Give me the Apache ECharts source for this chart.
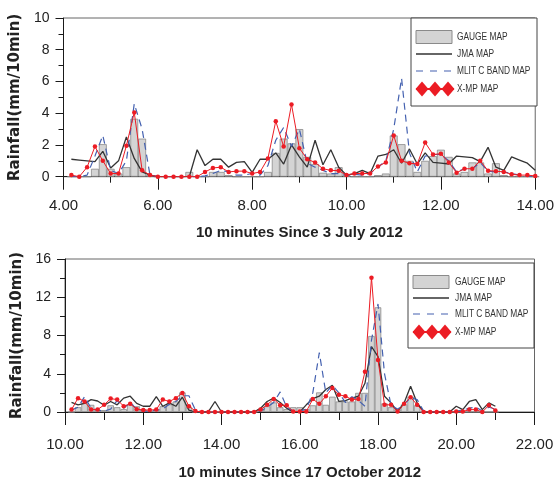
<!DOCTYPE html>
<html><head><meta charset="utf-8">
<script src="https://cdn.jsdelivr.net/npm/echarts@6/dist/echarts.min.js"></script>
<style>html,body{margin:0;padding:0;background:#fff}#c{width:557px;height:482px}</style>
</head><body><div id="c"></div>
<script>
// ---- Series names ----
const seriesNames = ['GAUGE MAP', 'JMA MAP', 'MLIT C BAND MAP', 'X-MP MAP'];

// ---- Panel 1: 10-minute steps since 3 July 2012 (first value at 4:10) ----
const julyStartHour = 4 + 1/6;
const stepHour = 1/6;
const julyGauge = [0,0,0,0.5,2.05,0.5,0.2,0.6,3.65,2.4, 0.1,0,0,0,0,0.3,0,0,0.3,0.3, 0.1,0,0,0,0,0.3,1.5,2.4,2.1,3.0, 1.25,0.8,0.25,0.2,0.6,0.1,0,0,0,0.1, 0.2,2.6,2.05,1.0,0.3,1.0,1.3,1.7,1.25,0.2, 0.3,0.9,0.9,0.2,0.85,0.1,0,0,0,0];
const julyJma   = [1.1,1.05,1.0,0.95,1.6,0.55,1.0,2.5,1.15,0.3, 0.1,0,0,0,0,0,1.7,0.7,1.1,1.1, 0.6,0.9,0.95,0.27,1.1,1.1,1.5,0.8,2.0,1.25, 0.6,2.3,0.75,1.7,0.6,0.1,0.2,0.4,0.2,1.3, 1.4,1.7,0.85,1.75,0.8,1.5,0.9,0.85,0.8,1.3, 1.25,1.2,0.95,1.85,0.6,0.4,1.25,1.05,0.85,0.4];
const julyMlit  = [0,0,0.1,1.3,2.6,0.4,0.2,1.0,4.6,3.0, 0.1,0,0,0,0,0,0,0.05,0.2,0.4, 0.3,0.1,0.1,0.2,0.1,0.7,2.3,3.1,1.9,3.0, 0.85,0.6,0.4,0.2,0.2,0.1,0.15,0.1,0.2,0.6, 1.0,3.0,6.2,1.5,0.3,1.3,1.4,1.4,1.0,0.3, 0.5,0.5,0.9,0.35,0.3,0.3,0.2,0.1,0.05,0];
const julyXmp   = [0.1,0,0.6,1.9,1.0,0.2,0.2,1.95,4.05,0.4, 0.1,0,0,0,0,0,0,0.3,0.55,0.6, 0.3,0.35,0.35,0.2,0.3,1.15,3.5,1.9,4.55,1.8, 1.1,0.9,0.5,0.4,0.38,0.1,0.2,0.2,0.2,0.65, 0.9,2.6,1.0,0.85,0.8,2.15,1.4,1.45,0.9,0.25, 0.5,0.5,1.0,0.38,0.35,0.3,0.15,0.1,0.1,0.05];

// ---- Panel 2: 10-minute steps since 17 October 2012 (first value at 10:10) ----
const octStartHour = 10 + 1/6;
const octGauge = [0,0.5,0.95,0.75,0.2,0.2,0.7,0.5,0.3,0.8, 0.6,0.3,0.1,0.2,0.6,0.8,1.1,2.05,0.5,0, 0,0,0,0,0,0,0,0,0,0.3, 0.6,1.0,0.5,0.3,0.5,0.5,0.3,0.7,2.05,0.75, 1.6,1.1,1.1,1.1,2.0,2.0,7.95,10.95,0.9,0.5, 0.3,0.8,1.6,0.7,0,0,0,0,0,0, 0,0,0,0,0,0];
const octJma   = [1.0,0.75,0.9,1.3,1.15,0.7,1.1,0.75,1.45,1.65, 0.9,0.6,0.6,1.6,0.6,0.95,0.6,1.55,0.2,0, 0,0.05,1.1,0,0,0,0,0,0,0.4, 1.1,1.45,1.0,0.4,0,0,0.75,1.4,1.65,2.35, 2.8,1.1,1.2,1.45,1.65,3.0,6.85,5.8,1.65,0.95, 0.05,0.95,2.7,0.95,0,0,0,0,0,0.6, 0.25,1.1,1.3,0.25,0.95,0.6];
const octMlit  = [0.2,0.5,1.6,0.4,0.2,0.1,0.3,1.2,0.4,1.0, 0.3,0.1,0.1,0.2,0.3,0.8,1.1,1.7,1.7,0.2, 0,0,0,0,0,0,0,0,0,0.1, 0.5,1.0,2.1,0.5,0.1,0.1,0.3,2.0,6.2,2.0, 2.8,2.0,1.0,1.6,1.2,0.6,7.5,11.3,4.0,0.7, 0.3,0.8,1.5,1.3,0.1,0,0,0,0,0.1, 0.2,0.4,0.5,0.1,0.5,0.3];
const octXmp   = [0.25,1.45,1.1,0.25,0.25,0.75,1.4,1.3,0.6,0.85, 0.3,0.2,0.2,0.25,1.3,1.1,1.45,2.0,0.6,0.1, 0,0,0,0,0,0,0,0,0,0.25, 0.75,1.35,0.7,0.7,0.05,0.05,0.05,1.35,0.85,1.65, 2.5,1.8,1.65,1.3,1.35,4.2,14.05,5.45,0.75,0.75, 0.05,0.85,1.55,0.75,0,0,0,0,0,0.05, 0.05,0.25,0.25,0,0.7,0.15];

// ---- Axis settings ----
const julyXRange = [4, 14], julyYRange = [0, 10];
const octXRange = [10, 22], octYRange = [0, 16];
const julyXName = '10 minutes Since 3 July 2012';
const octXName = '10 minutes Since 17 October 2012';
const yName = 'Rainfall(mm/10min)';

function pairs(start, vals) { return vals.map((v, i) => [start + i * stepHour, v]); }

const C = {
  gaugeFill: '#d4d4d4', gaugeBorder: '#8a8a8a', jma: '#333333',
  mlit: '#4461b0', xmp: '#ec1c24', axis: '#1a1a1a', frame: '#666666', text: '#222'
};
const tickFont = '"Liberation Sans", Arial, sans-serif';

function xAxisCfg(idx, range, name, minorLen, labelMargin, nameGap) {
  return {
    gridIndex: idx, type: 'value', min: range[0], max: range[1], interval: 2,
    axisLine: { show: true, onZero: false, lineStyle: { color: C.axis, width: 1 } },
    axisTick: { show: true, length: 13, lineStyle: { color: C.axis, width: 1 } },
    minorTick: { show: true, splitNumber: 2, length: minorLen, lineStyle: { color: C.axis, width: 1 } },
    splitLine: { show: false }, minorSplitLine: { show: false },
    axisLabel: { formatter: v => v.toFixed(2), fontSize: 15, fontFamily: tickFont, color: C.text, margin: labelMargin, showMinLabel: true, showMaxLabel: true },
    name: name, nameLocation: 'middle', nameGap: nameGap,
    nameTextStyle: { fontSize: 15, fontWeight: 'bold', fontFamily: tickFont, color: C.text }
  };
}
function yAxisCfg(idx, range, interval) {
  return {
    gridIndex: idx, type: 'value', min: range[0], max: range[1], interval: interval,
    axisLine: { show: true, lineStyle: { color: C.axis, width: 1 } },
    axisTick: { show: true, length: 8, lineStyle: { color: C.axis, width: 1 } },
    minorTick: { show: true, splitNumber: 2, length: 5, lineStyle: { color: C.axis, width: 1 } },
    splitLine: { show: false }, minorSplitLine: { show: false },
    axisLabel: { fontSize: 14, fontFamily: tickFont, color: C.text, margin: 14 },
    name: yName, nameLocation: 'middle', nameGap: 40, nameRotate: 90,
    nameTextStyle: { fontSize: 15, fontWeight: 'bold', fontFamily: '"DejaVu Sans", sans-serif', color: C.text }
  };
}

// Legend box drawn as graphic (condensed text needs horizontal scaling)
function legendGraphic(box, rowYs, iconX, textX) {
  const z = 100, w = 36;
  const els = [
    { type: 'rect', z: z, shape: { x: box[0], y: box[1], width: box[2], height: box[3] }, style: { fill: '#fff', stroke: '#444', lineWidth: 1 } },
    { type: 'rect', z: z + 1, shape: { x: iconX, y: rowYs[0] - 6.5, width: w, height: 13 }, style: { fill: C.gaugeFill, stroke: C.gaugeBorder, lineWidth: 1 } },
    { type: 'line', z: z + 1, shape: { x1: iconX, y1: rowYs[1], x2: iconX + w, y2: rowYs[1] }, style: { stroke: C.jma, lineWidth: 1.3 } },
    { type: 'line', z: z + 1, shape: { x1: iconX, y1: rowYs[2], x2: iconX + w, y2: rowYs[2] }, style: { stroke: C.mlit, lineWidth: 1.2, lineDash: [7, 7] } },
    { type: 'line', z: z + 1, shape: { x1: iconX, y1: rowYs[3], x2: iconX + w + 2, y2: rowYs[3] }, style: { stroke: C.xmp, lineWidth: 2 } }
  ];
  for (let k = 0; k < 3; k++) {
    const cx = iconX + 6 + k * 13, cy = rowYs[3];
    els.push({ type: 'polygon', z: z + 2, shape: { points: [[cx - 6.5, cy], [cx, cy - 7.5], [cx + 6.5, cy], [cx, cy + 7.5]] }, style: { fill: C.xmp } });
  }
  seriesNames.forEach((n, i) => {
    els.push({ type: 'text', z: z + 2, x: textX, y: rowYs[i], scaleX: 0.76,
      style: { text: n, fill: '#333', font: '11px "Liberation Sans", Arial, sans-serif', verticalAlign: 'middle', align: 'left' } });
  });
  return els;
}

function panelSeries(idx, start, gauge, jma, mlit, xmp, barW) {
  return [
    { name: seriesNames[0], type: 'bar', xAxisIndex: idx, yAxisIndex: idx, data: pairs(start, gauge), barWidth: barW,
      itemStyle: { color: C.gaugeFill, borderColor: C.gaugeBorder, borderWidth: 0.8 }, silent: true, animation: false },
    { name: seriesNames[1], type: 'line', xAxisIndex: idx, yAxisIndex: idx, data: pairs(start, jma), symbol: 'none',
      lineStyle: { color: C.jma, width: 1.3 }, itemStyle: { color: C.jma }, animation: false },
    { name: seriesNames[2], type: 'line', xAxisIndex: idx, yAxisIndex: idx, data: pairs(start, mlit), symbol: 'none',
      lineStyle: { color: C.mlit, width: 1.2, type: [7, 5] }, itemStyle: { color: C.mlit }, animation: false },
    { name: seriesNames[3], type: 'line', xAxisIndex: idx, yAxisIndex: idx, data: pairs(start, xmp), symbol: 'circle', symbolSize: 4.5,
      lineStyle: { color: C.xmp, width: 1 }, itemStyle: { color: C.xmp }, animation: false }
  ];
}

const chart = echarts.init(document.getElementById('c'), null, { renderer: 'canvas' });
chart.setOption({
  backgroundColor: '#fff',
  animation: false,
  grid: [
    { left: 63.5, right: 18.5, top: 18, bottom: 305.3, show: true, borderColor: C.frame, borderWidth: 1, containLabel: false },
    { left: 65, right: 22.5, top: 259, bottom: 70, show: true, borderColor: C.frame, borderWidth: 1, containLabel: false }
  ],
  xAxis: [ xAxisCfg(0, julyXRange, julyXName, 6, 22, 48.5), xAxisCfg(1, octXRange, octXName, 8, 25, 53) ],
  yAxis: [ yAxisCfg(0, julyYRange, 2), yAxisCfg(1, octYRange, 4) ],
  graphic: [].concat(
    legendGraphic([411, 18, 126, 88], [37, 54, 71, 89], 416, 457),
    legendGraphic([408, 263, 126, 85], [282, 298, 314, 332], 413, 455)
  ),
  series: [].concat(
    panelSeries(0, julyStartHour, julyGauge, julyJma, julyMlit, julyXmp, 7.9),
    panelSeries(1, octStartHour, octGauge, octJma, octMlit, octXmp, 6.5)
  )
});
</script></body></html>
